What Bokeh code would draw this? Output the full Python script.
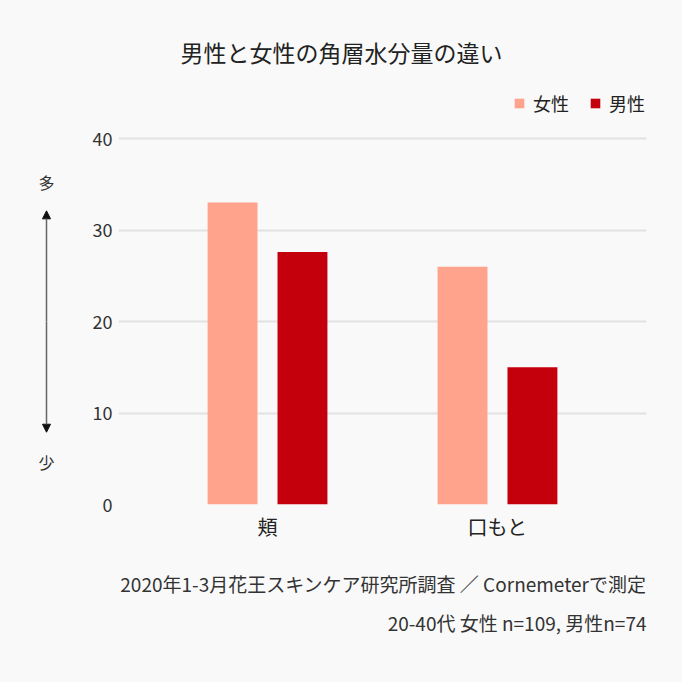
from bokeh.plotting import figure
from bokeh.layouts import row
from bokeh.models import (ColumnDataSource, Range1d, FixedTicker, Legend, LegendItem,
                          Title, Label, Arrow, NormalHead)
from bokeh.transform import dodge
from bokeh.embed import file_html
from bokeh.resources import INLINE

categories = ["頬", "口もと"]
female = [33.0, 26.0]
male = [27.6, 15.0]
series_names = ["女性", "男性"]
colors = ["#FFA38C", "#C5000D"]
y_ticks = [0, 10, 20, 30, 40]
note_lines = ["2020年1-3月花王スキンケア研究所調査 ／ Cornemeterで測定",
              "20-40代 女性 n=109, 男性n=74"]

FONT = "Noto Sans CJK JP"
BG = "#F9F9F9"
TOP, BOTTOM = 85, 178

y_range = Range1d(0, 45.8)
x_range = Range1d(-0.648, 1.648)

# ---- left strip with the 多 / 少 arrow ----
side = figure(width=80, height=682, output_backend="svg", toolbar_location=None,
              x_range=Range1d(0, 80), y_range=y_range, x_axis_type=None, y_axis_type=None,
              background_fill_color=BG, border_fill_color=BG,
              min_border_left=0, min_border_right=0, min_border_top=TOP, min_border_bottom=BOTTOM)
side.outline_line_color = None
side.grid.visible = False
head = dict(size=8, fill_color="#111111", line_color="#111111")
side.add_layout(Arrow(x_start=46, y_start=20, x_end=46, y_end=32.1,
                      line_color="#666666", line_width=1.5, end=NormalHead(**head)))
side.add_layout(Arrow(x_start=46, y_start=20, x_end=46, y_end=7.9,
                      line_color="#666666", line_width=1.5, end=NormalHead(**head)))
side.add_layout(Label(x=46, y=35.2, text="多", text_font=FONT, text_font_size="16px",
                      text_align="center", text_baseline="middle", text_color="#333333"))
side.add_layout(Label(x=46, y=4.6, text="少", text_font=FONT, text_font_size="16px",
                      text_align="center", text_baseline="middle", text_color="#333333"))

# ---- main chart ----
src = ColumnDataSource(dict(x=list(range(len(categories))), female=female, male=male))

p = figure(width=602, height=682, output_backend="svg", toolbar_location=None,
           x_range=x_range, y_range=y_range,
           background_fill_color=BG, border_fill_color=BG,
           min_border_left=38, min_border_right=36, min_border_top=TOP, min_border_bottom=BOTTOM)
p.outline_line_color = None

r1 = p.vbar(x=dodge("x", -0.152, range=p.x_range), top="female", width=0.217, source=src,
            fill_color=colors[0], line_color=None)
r2 = p.vbar(x=dodge("x", 0.152, range=p.x_range), top="male", width=0.217, source=src,
            fill_color=colors[1], line_color=None)

p.xgrid.visible = False
p.ygrid.ticker = FixedTicker(ticks=y_ticks)
p.ygrid.grid_line_color = "#E2E2E2"
p.ygrid.grid_line_width = 2

p.yaxis.ticker = FixedTicker(ticks=y_ticks)
p.yaxis.axis_line_color = None
p.yaxis.major_tick_line_color = None
p.yaxis.minor_tick_line_color = None
p.yaxis.major_label_text_font = FONT
p.yaxis.major_label_text_font_size = "18px"
p.yaxis.major_label_text_color = "#333333"
p.yaxis.major_label_standoff = 0

p.xaxis.ticker = FixedTicker(ticks=list(range(len(categories))))
p.xaxis.major_label_overrides = {i: c for i, c in enumerate(categories)}
p.xaxis.axis_line_color = None
p.xaxis.major_tick_line_color = None
p.xaxis.minor_tick_line_color = None
p.xaxis.major_label_text_font = FONT
p.xaxis.major_label_text_font_size = "20px"
p.xaxis.major_label_text_color = "#222222"
p.xaxis.major_label_standoff = 1

legend = Legend(items=[LegendItem(label=series_names[0], renderers=[r1]),
                       LegendItem(label=series_names[1], renderers=[r2])],
                orientation="horizontal", location=(395, 388),
                background_fill_alpha=0, border_line_color=None,
                label_text_font=FONT, label_text_font_size="18px", label_text_color="#222222",
                glyph_width=12, glyph_height=12, spacing=20, label_standoff=8,
                margin=0, padding=0)
p.add_layout(legend)

p.title.text = "男性と女性の角層水分量の違い"
p.title.text_font = FONT
p.title.text_font_size = "23px"
p.title.text_font_style = "normal"
p.title.text_color = "#222222"
p.title.align = "left"
p.title.offset = 62
p.title.standoff = 33

p.add_layout(Title(text=note_lines[0], align="right",
                   text_font=FONT, text_font_size="19px", text_font_style="normal",
                   text_color="#333333", standoff=48), "below")
p.add_layout(Title(text=note_lines[1], align="right", text_font=FONT,
                   text_font_size="19px", text_font_style="normal", text_color="#333333",
                   standoff=-30), "below")

layout = row(side, p, spacing=0, styles={"background-color": BG})
open("out.html", "w").write(file_html(layout, INLINE))
